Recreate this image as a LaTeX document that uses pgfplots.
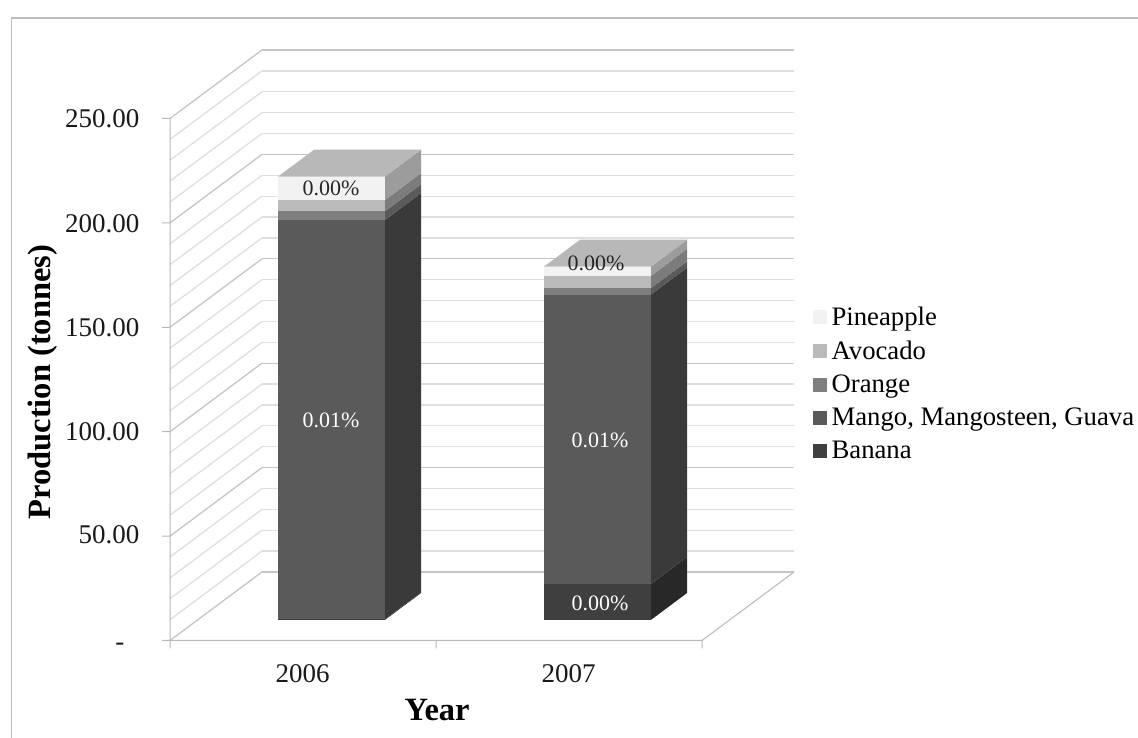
\documentclass[border=0pt]{standalone}
\usepackage{fontspec}
\setmainfont{Liberation Serif}
\usepackage{pgfplots}
\pgfplotsset{compat=1.18}

\definecolor{frameline}{HTML}{BEBEBE}
\definecolor{axisline}{HTML}{B8B8B8}
\definecolor{gridmajor}{HTML}{C6C6C6}
\definecolor{gridminor}{HTML}{DFDFDF}

\definecolor{bananaF}{HTML}{3F3F3F}\definecolor{bananaS}{HTML}{282828}
\definecolor{mangoF}{HTML}{5A5A5A}\definecolor{mangoS}{HTML}{3A3A3A}
\definecolor{orangeF}{HTML}{7F7F7F}\definecolor{orangeS}{HTML}{5A5A5A}
\definecolor{avocadoF}{HTML}{BABABA}\definecolor{avocadoS}{HTML}{7C7C7C}
\definecolor{pineF}{HTML}{F2F2F2}\definecolor{pineS}{HTML}{9C9C9C}
\definecolor{pineT}{HTML}{B8B8B8}

\newcommand{\bigfont}{\fontsize{27}{32}\selectfont}
\newcommand{\legfont}{\fontsize{26.7}{32}\selectfont}
\newcommand{\boldfont}{\fontsize{32.5}{38}\selectfont\bfseries}
\newcommand{\valfont}{\fontsize{22}{26}\selectfont}

% One stacked segment: x-left, x-right, lower value, upper value, face colour, side colour
\newcommand{\segment}[6]{%
  \addplot3[draw=none, fill=#6, forget plot] coordinates {(#2,0.30,#3) (#2,0.695,#3) (#2,0.695,#4) (#2,0.30,#4)} -- cycle;
  \addplot3[draw=none, fill=#5, forget plot] coordinates {(#1,0.30,#3) (#2,0.30,#3) (#2,0.30,#4) (#1,0.30,#4)} -- cycle;
}
% Lid on the uppermost segment
\newcommand{\lid}[3]{%
  \addplot3[draw=none, fill=pineT, forget plot] coordinates {(#1,0.30,#3) (#2,0.30,#3) (#2,0.695,#3) (#1,0.695,#3)} -- cycle;
}

\pgfplotsset{
  swatch/.style={
    legend image code/.code={
      \fill[##1, draw=none] (0pt,-7pt) rectangle (14pt,7pt);
    }
  }
}

\begin{document}
\begin{tikzpicture}[x=1pt,y=1pt]
\useasboundingbox (0,0) rectangle (1138,738);
\fill[white] (0,0) rectangle (1138,738);
\draw[frameline, line width=1.2pt] (11.5,0) -- (11.5,720) -- (1138,720);

\begin{axis}[
  at={(170pt,97.5pt)}, anchor=south west,
  x={(266pt,0pt)}, y={(92pt,68.5pt)}, z={(0pt,2.088pt)},
  xmin=0, xmax=2, ymin=0, ymax=1, zmin=0, zmax=250,
  clip=false,
  axis line style={draw=none},
  axis x line*=bottom, axis z line*=left,
  ytick=\empty,
  xtick={0.5,1.5}, xticklabels={2006,2007},
  ztick={0,50,100,150,200,250},
  zticklabels={\vphantom{0}\smash{\raisebox{-9pt}{-}}\kern15pt\null,50.00,100.00,150.00,200.00,250.00},
  minor z tick num=4,
  zmajorgrids, zminorgrids,
  major grid style={gridmajor, line width=1.3pt},
  minor grid style={gridminor, line width=1.3pt},
  major tick length=0pt, minor tick length=0pt,
  tick label style={font=\bigfont, text=black!90},
  x tick label style={xshift=6pt, yshift=-21pt},
  z tick label style={xshift=-27pt, yshift=13pt},
  xlabel={Year}, zlabel={Production (tonnes)},
  label style={font=\boldfont},
  xlabel style={xshift=33pt, yshift=-6pt},
  zlabel style={xshift=37pt, yshift=8pt},
  legend cell align=left,
  legend style={draw=none, fill=none, at={(1.0295,0.435)}, anchor=west,
    font=\legfont, row sep=10pt, column sep=3pt, inner sep=0pt},
]
% Floor edges and the front of the left wall, with their outward ticks
\addplot3[axisline, line width=1pt, forget plot] coordinates {
  (0,0,250) (-0.03,0,250) (0,0,250) (0,0,200) (-0.03,0,200) (0,0,200)
  (0,0,150) (-0.03,0,150) (0,0,150) (0,0,100) (-0.03,0,100) (0,0,100)
  (0,0,50) (-0.03,0,50) (0,0,50) (0,0,0) (-0.03,0,0) (0,0,0)
  (0,0,-3.8) (0,0,0) (1,0,0) (1,0,-3.8) (1,0,0) (2,0,0) (2,0,-3.8) (2,0,0) (2,1,0)};

% 2006
\segment{0.302}{0.704}{0}{0.3}{bananaF}{bananaS}
\segment{0.302}{0.704}{0.3}{191.5}{mangoF}{mangoS}
\segment{0.302}{0.704}{191.5}{195.7}{orangeF}{orangeS}
\segment{0.302}{0.704}{195.7}{201.1}{avocadoF}{avocadoS}
\segment{0.302}{0.704}{201.1}{212.3}{pineF}{pineS}
\lid{0.302}{0.704}{212.3}

% 2007
\segment{1.302}{1.704}{0}{17.2}{bananaF}{bananaS}
\segment{1.302}{1.704}{17.2}{155.8}{mangoF}{mangoS}
\segment{1.302}{1.704}{155.8}{158.9}{orangeF}{orangeS}
\segment{1.302}{1.704}{158.9}{164.8}{avocadoF}{avocadoS}
\segment{1.302}{1.704}{164.8}{169.2}{pineF}{pineS}
\lid{1.302}{1.704}{169.2}

% Legend keys, listed from the top of the stack downwards
\addlegendimage{swatch, fill=pineF}\addlegendentry{Pineapple}
\addlegendimage{swatch, fill=avocadoF}\addlegendentry{Avocado}
\addlegendimage{swatch, fill=orangeF}\addlegendentry{Orange}
\addlegendimage{swatch, fill=mangoF}\addlegendentry{Mango, Mangosteen, Guava}
\addlegendimage{swatch, fill=bananaF}\addlegendentry{Banana}

% Share labels on the front faces
\node[font=\valfont, text=black!85] at (axis cs:0.5015,0.30,206.9) {0.00\%};
\node[font=\valfont, text=white] at (axis cs:0.5015,0.30,95.8) {0.01\%};
\node[font=\valfont, text=black!85] at (axis cs:1.498,0.30,171) {0.00\%};
\node[font=\valfont, text=white] at (axis cs:1.513,0.30,86.2) {0.01\%};
\node[font=\valfont, text=white] at (axis cs:1.513,0.30,8.1) {0.00\%};
\end{axis}
\end{tikzpicture}
\end{document}
